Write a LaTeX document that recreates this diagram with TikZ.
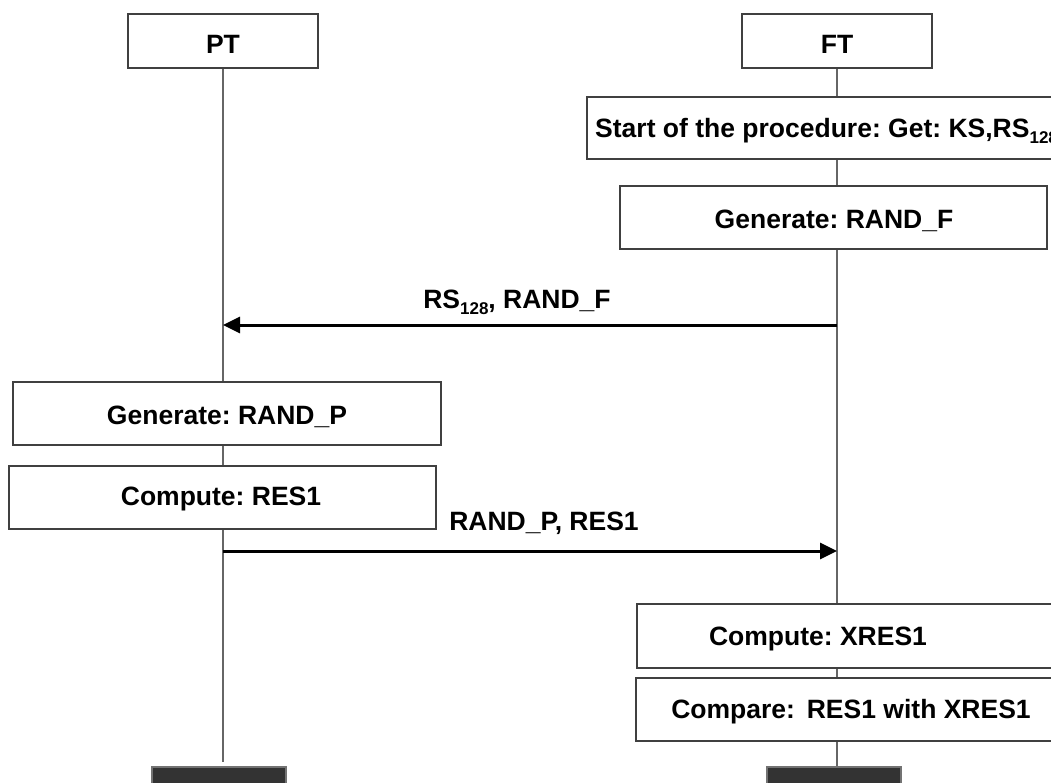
\documentclass[tikz,border=0pt]{standalone}
\usepackage{fontspec}
\setmainfont{Liberation Sans}
\usetikzlibrary{arrows.meta}
\newcommand{\subnum}[1]{\raisebox{-0.22em}{\fontsize{17}{17}\selectfont #1}}
\begin{document}
\frenchspacing
\begin{tikzpicture}[x=1pt,y=-1pt,
  box/.style={draw=black!75, line width=1.3pt, fill=white, inner sep=0pt},
  lbl/.style={font=\fontsize{26.5}{30}\selectfont\bfseries, inner sep=0pt},
  life/.style={draw=black!60, line width=1.3pt},
  msg/.style={line width=3pt, -{Triangle[length=17pt,width=16pt]}},
  dark/.style={fill=black!80, draw=black!55, line width=1.3pt}]
\useasboundingbox (0,0) rectangle (1051,782);
\clip (0,0) rectangle (1051,782);

% lifelines
\coordinate (ptend) at (223,762);
\coordinate (ftend) at (837,767);
\draw[life] (223,68) -- (ptend);
\draw[life] (837,68) -- (ftend);

% actor boxes
\node[box, minimum width=190pt, minimum height=54pt] (pt) at (223,41) {};
\node[lbl] (ptl) at (223,44) {PT};
\node[box, minimum width=190pt, minimum height=54pt] (ft) at (837,41) {};
\node[lbl] (ftl) at (837,44) {FT};

% FT side boxes
\draw[box] (587,97) rectangle (1100,159);
\node[lbl, anchor=west] (start) at (595,131) {Start of the procedure: Get: KS,RS\subnum{128}};
\node[box, minimum width=427pt, minimum height=63pt] (genf) at (833.5,217.5) {};
\node[lbl] (genfl) at (834,221) {Generate: RAND\_F};

% message 1
\coordinate (m1s) at (837,325);
\coordinate (m1e) at (223,325);
\draw[msg] (m1s) -- (m1e);
\node[lbl] (m1l) at (517,302) {RS\subnum{128}, RAND\_F};

% PT side boxes
\node[box, minimum width=428pt, minimum height=63pt] (genp) at (227,413.5) {};
\node[lbl] (genpl) at (227,417) {Generate: RAND\_P};
\node[box, minimum width=427pt, minimum height=63pt] (res1) at (222.5,497.5) {};
\node[lbl] (res1l) at (221,499) {Compute: RES1};

% message 2
\coordinate (m2s) at (223,551);
\coordinate (m2e) at (837,551);
\draw[msg] (m2s) -- (m2e);
\node[lbl] (m2l) at (544,523) {RAND\_P, RES1};

% FT side result boxes
\draw[box] (637,604) rectangle (1100,668);
\node[lbl] (xres) at (818,639) {Compute: XRES1};
\draw[box] (636,678) rectangle (1100,741);
\node[lbl] (cmp) at (851,712) {Compare:\hspace{0.45em}RES1 with XRES1};

% end markers
\draw[dark] (152,767) rectangle (286,800);
\draw[dark] (767,767) rectangle (901,800);
\end{tikzpicture}
\end{document}
